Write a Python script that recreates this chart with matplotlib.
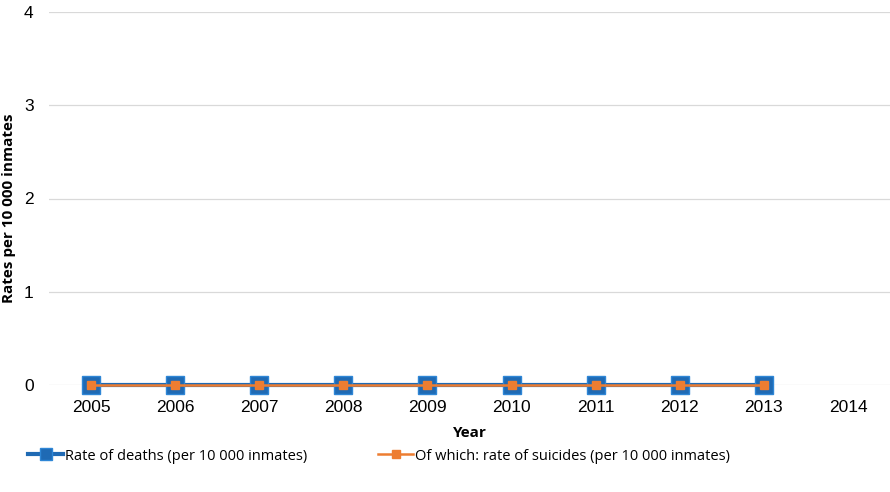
import matplotlib
matplotlib.use("Agg")
import matplotlib.pyplot as plt
import numpy as np

years = ["2005", "2006", "2007", "2008", "2009", "2010", "2011", "2012", "2013", "2014"]
deaths = [0, 0, 0, 0, 0, 0, 0, 0, 0, np.nan]
suicides = [0, 0, 0, 0, 0, 0, 0, 0, 0, np.nan]
yticks = [0, 1, 2, 3, 4]

blue = "#1F6AB4"
orange = "#ED7D31"

fig = plt.figure(figsize=(8.9, 4.92), dpi=100)
ax = fig.add_axes([49/890, 1-385/492, 841/890, (385-12)/492])

x = np.arange(len(years))
ax.plot(x, deaths, color=blue, lw=3, marker="s", markersize=13,
        markerfacecolor=blue, markeredgecolor="#2E86D6", markeredgewidth=1,
        label="Rate of deaths (per 10 000 inmates)", zorder=3)
ax.plot(x, suicides, color=orange, lw=1.8, marker="s", markersize=6,
        markerfacecolor=orange, markeredgecolor=orange,
        label="Of which: rate of suicides (per 10 000 inmates)", zorder=4)

ax.set_xlim(-0.5, len(years) - 0.5)
ax.set_ylim(0, 4)
ax.set_yticks(yticks)
ax.set_xticks(x)
ax.set_xticklabels(years)
ax.grid(axis="y", color="#D9D9D9", lw=0.9)
ax.set_axisbelow(True)
for s in ax.spines.values():
    s.set_visible(False)
ax.tick_params(length=0, labelsize=12.5)
for lbl in ax.get_xticklabels() + ax.get_yticklabels():
    lbl.set_family("Liberation Sans")
ax.tick_params(axis="y", pad=11)
ax.tick_params(axis="x", pad=11)

for line in ax.get_lines():
    line.set_clip_on(False)

fig.text(470/890, 1-433/492, "Year", ha="center", va="center",
         fontsize=11, fontweight="bold", family="Open Sans")
fig.text(9/890, 1-208/492, "Rates per 10 000 inmates", ha="center", va="center",
         rotation=90, fontsize=11, fontweight="bold", family="Open Sans")

leg = fig.legend(loc="center left", bbox_to_anchor=(15/890, 1-456/492), ncol=2,
                 frameon=False, prop={"family": "Open Sans", "size": 10.5},
                 handlelength=2.4, handletextpad=0.1, columnspacing=4.9,
                 markerscale=1.0)
for h in leg.legend_handles:
    h.set_markersize(6 if h.get_color() == orange else 8)

fig.savefig("out.png", dpi=100)
